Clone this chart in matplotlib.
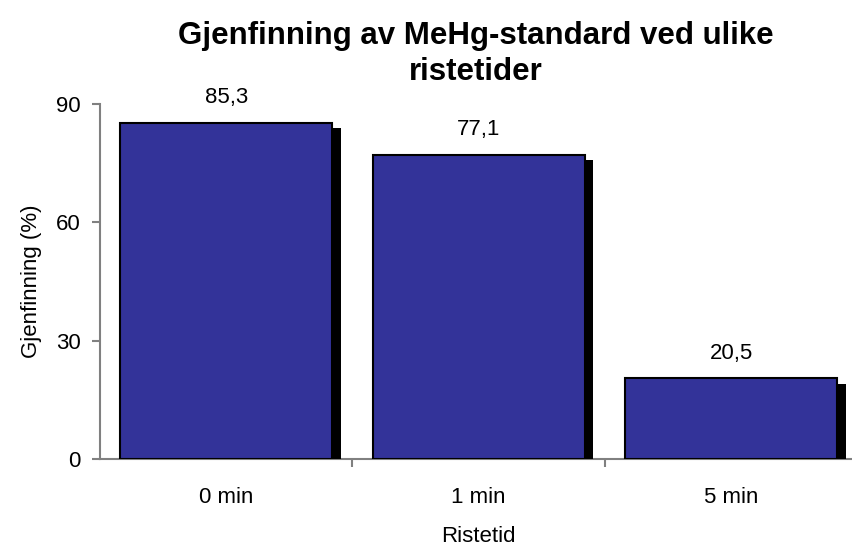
import matplotlib.pyplot as plt
import matplotlib.patheffects as pe

plt.rcParams['font.family'] = ['Liberation Sans', 'DejaVu Sans']

# Recovery of MeHg standard at different shaking times
categories = ['0 min', '1 min', '5 min']
recovery = [85.3, 77.1, 20.5]
labels = ['85,3', '77,1', '20,5']

fig = plt.figure(figsize=(8.53, 5.49), dpi=100)
ax = fig.add_axes([100 / 853, 90 / 549, 757.5 / 853, 355 / 549])

x = range(len(categories))
bars = ax.bar(x, recovery, width=0.84, color='#333399', edgecolor='black',
              linewidth=1.5, zorder=3)
for b in bars:
    b.set_path_effects([pe.SimplePatchShadow(offset=(6, -4), shadow_rgbFace='black', alpha=1.0),
                        pe.Normal()])

for xi, v, lab in zip(x, recovery, labels):
    ax.annotate(lab, (xi, v), xytext=(0, 18), textcoords='offset points',
                ha='center', va='center', fontsize=16)

ax.set_xlim(-0.5, 2.5)
ax.set_ylim(0, 90)
ax.set_yticks([0, 30, 60, 90])
ax.set_xticks(x)
ax.set_xticklabels(categories)
ax.set_xticks([0.5, 1.5, 2.5], minor=True)
ax.tick_params(axis='x', which='major', length=0, pad=20, labelsize=16)
ax.tick_params(axis='x', which='minor', length=6, color='#808080', width=1.5)
ax.tick_params(axis='y', length=6, color='#808080', width=1.5, labelsize=16, pad=8)

for s in ['top', 'right']:
    ax.spines[s].set_visible(False)
for s in ['left', 'bottom']:
    ax.spines[s].set_color('#808080')
    ax.spines[s].set_linewidth(1.5)

ax.set_ylabel('Gjenfinning (%)', fontsize=16, labelpad=10)
ax.set_xlabel('Ristetid', fontsize=16, labelpad=13)
fig.text(476 / 853, 1 - 54 / 549, 'Gjenfinning av MeHg-standard ved ulike\nristetider',
         ha='center', va='center', fontsize=22.5, fontweight='bold', linespacing=1.3)

fig.savefig('out.png', dpi=100)
